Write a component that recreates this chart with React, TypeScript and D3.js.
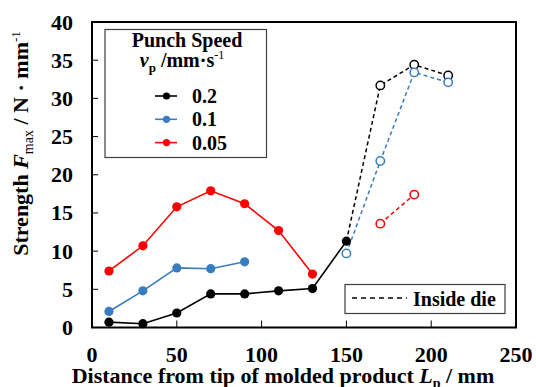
import React, { useRef, useEffect } from "react";
import * as d3 from "d3";

const X_TICKS = [0, 50, 100, 150, 200, 250];
const Y_TICKS = [0, 5, 10, 15, 20, 25, 30, 35, 40];

const SPEEDS = ["0.2", "0.1", "0.05"];
const COLORS: Record<string, string> = { "0.2": "#000000", "0.1": "#3a7cc0", "0.05": "#ff0000" };

// measured outside the die (solid line, filled markers)
const OUT_X: Record<string, number[]> = {
  "0.2": [10, 30, 50, 70, 90, 110, 130, 150],
  "0.1": [10, 30, 50, 70, 90],
  "0.05": [10, 30, 50, 70, 90, 110, 130],
};
const OUT_Y: Record<string, number[]> = {
  "0.2": [0.7, 0.5, 1.9, 4.4, 4.4, 4.8, 5.1, 11.3],
  "0.1": [2.1, 4.8, 7.8, 7.7, 8.6],
  "0.05": [7.4, 10.7, 15.8, 17.9, 16.2, 12.7, 7.0],
};
// inside die (dashed line, open markers)
const DIE_X: Record<string, number[]> = {
  "0.2": [170, 190, 210],
  "0.1": [150, 170, 190, 210],
  "0.05": [170, 190],
};
const DIE_Y: Record<string, number[]> = {
  "0.2": [31.7, 34.4, 33.0],
  "0.1": [9.7, 21.8, 33.4, 32.1],
  "0.05": [13.6, 17.4],
};
// dashed line continues from last outside point
const JOIN: Record<string, boolean> = { "0.2": true, "0.1": false, "0.05": false };

const FONT = "'Liberation Serif', 'Times New Roman', Times, serif";

const App: React.FC = () => {
  const svgRef = useRef<SVGSVGElement | null>(null);

  useEffect(() => {
    if (!svgRef.current) return;
    const svg = d3.select(svgRef.current);
    svg.selectAll("*").remove();

    const L = 92, R = 516, T = 22, B = 327.5;
    const x = d3.scaleLinear().domain([0, 250]).range([L, R]);
    const y = d3.scaleLinear().domain([0, 40]).range([B, T]);

    const root = svg.append("g").style("font-family", FONT).style("font-weight", "bold");

    /* ticks */
    root.append("g")
      .selectAll("line")
      .data(Y_TICKS)
      .join("line")
      .attr("x1", L).attr("x2", L + 6)
      .attr("y1", (d) => y(d)).attr("y2", (d) => y(d))
      .attr("stroke", "#000").attr("stroke-width", 1);
    root.append("g")
      .selectAll("line")
      .data(X_TICKS)
      .join("line")
      .attr("x1", (d) => x(d)).attr("x2", (d) => x(d))
      .attr("y1", B).attr("y2", B - 7)
      .attr("stroke", "#000").attr("stroke-width", 1);

    /* frame */
    root.append("rect")
      .attr("x", L).attr("y", T).attr("width", R - L).attr("height", B - T)
      .attr("fill", "none").attr("stroke", "#000").attr("stroke-width", 2);

    /* tick labels */
    root.append("g")
      .selectAll("text")
      .data(Y_TICKS)
      .join("text")
      .attr("x", 73).attr("y", (d) => y(d) + 7.5)
      .attr("text-anchor", "end").style("font-size", "22px")
      .text((d) => d);
    root.append("g")
      .selectAll("text")
      .data(X_TICKS)
      .join("text")
      .attr("x", (d) => x(d)).attr("y", 362)
      .attr("text-anchor", "middle").style("font-size", "22px")
      .text((d) => d);

    /* axis titles */
    const xt = root.append("text").attr("x", 283).attr("y", 383)
      .attr("text-anchor", "middle").style("font-size", "22px");
    xt.append("tspan").text("Distance from tip of molded product ");
    xt.append("tspan").style("font-style", "italic").text("L");
    xt.append("tspan").style("font-size", "14px").attr("dy", 5).text("p");
    xt.append("tspan").attr("dy", -5).text(" / mm");

    const yt = root.append("text")
      .attr("transform", "translate(28,143.5) rotate(-90)")
      .attr("text-anchor", "middle").style("font-size", "22px");
    yt.append("tspan").text("Strength ");
    yt.append("tspan").style("font-style", "italic").text("F");
    yt.append("tspan").style("font-size", "14px").style("font-weight", "normal").attr("dy", 5).text("max");
    yt.append("tspan").attr("dy", -5).text(" / N · mm");
    yt.append("tspan").style("font-size", "13px").style("font-weight", "normal").attr("dy", -8).text("-1");

    const line = d3.line<[number, number]>().x((d) => x(d[0])).y((d) => y(d[1]));

    /* dashed inside-die lines */
    SPEEDS.forEach((s) => {
      const pts: [number, number][] = DIE_X[s].map((v, i) => [v, DIE_Y[s][i]]);
      if (JOIN[s]) {
        const n = OUT_X[s].length - 1;
        pts.unshift([OUT_X[s][n], OUT_Y[s][n]]);
      }
      root.append("path")
        .attr("d", line(pts))
        .attr("fill", "none").attr("stroke", COLORS[s])
        .attr("stroke-width", 1.5).attr("stroke-dasharray", "4,3");
    });

    /* solid lines + filled markers */
    SPEEDS.forEach((s) => {
      const pts: [number, number][] = OUT_X[s].map((v, i) => [v, OUT_Y[s][i]]);
      root.append("path")
        .attr("d", line(pts))
        .attr("fill", "none").attr("stroke", COLORS[s]).attr("stroke-width", 1.6);
      root.append("g")
        .selectAll("circle")
        .data(pts)
        .join("circle")
        .attr("cx", (d) => x(d[0])).attr("cy", (d) => y(d[1])).attr("r", 4.6)
        .attr("fill", COLORS[s]);
    });

    /* open markers */
    SPEEDS.forEach((s) => {
      const pts: [number, number][] = DIE_X[s].map((v, i) => [v, DIE_Y[s][i]]);
      root.append("g")
        .selectAll("circle")
        .data(pts)
        .join("circle")
        .attr("cx", (d) => x(d[0])).attr("cy", (d) => y(d[1])).attr("r", 4.2)
        .attr("fill", "#fff").attr("stroke", COLORS[s]).attr("stroke-width", 1.5);
    });

    /* speed legend */
    const lg = root.append("g");
    lg.append("rect")
      .attr("x", 105).attr("y", 29.5).attr("width", 161.5).attr("height", 128)
      .attr("fill", "#fff").attr("stroke", "#404040").attr("stroke-width", 1.2);
    lg.append("text").attr("x", 187).attr("y", 47)
      .attr("text-anchor", "middle").style("font-size", "20px").text("Punch Speed");
    const l2 = lg.append("text").attr("x", 182).attr("y", 67)
      .attr("text-anchor", "middle").style("font-size", "20px");
    l2.append("tspan").style("font-style", "italic").text("v");
    l2.append("tspan").style("font-size", "13px").attr("dy", 5).text("p");
    l2.append("tspan").attr("dy", -5).text(" /mm·s");
    l2.append("tspan").style("font-size", "12px").style("font-weight", "normal").attr("dy", -8).text("-1");
    SPEEDS.forEach((s, i) => {
      const cy = 96 + i * 23.3;
      lg.append("line")
        .attr("x1", 155).attr("x2", 177).attr("y1", cy).attr("y2", cy)
        .attr("stroke", COLORS[s]).attr("stroke-width", 1.6);
      lg.append("circle").attr("cx", 166.5).attr("cy", cy).attr("r", 3.6).attr("fill", COLORS[s]);
      lg.append("text").attr("x", 192).attr("y", cy + 7)
        .style("font-size", "20px").text(s);
    });

    /* inside die legend */
    const ld = root.append("g");
    ld.append("rect")
      .attr("x", 345).attr("y", 284.5).attr("width", 160).attr("height", 29)
      .attr("fill", "#fff").attr("stroke", "#404040").attr("stroke-width", 1.2);
    ld.append("line")
      .attr("x1", 352).attr("x2", 407).attr("y1", 298).attr("y2", 298)
      .attr("stroke", "#000").attr("stroke-width", 1.3).attr("stroke-dasharray", "5,4");
    ld.append("text").attr("x", 413).attr("y", 305.5).style("font-size", "20px").text("Inside die");
  }, []);

  return (
    <svg
      ref={svgRef}
      width={536}
      height={387}
      style={{ position: "absolute", left: 0, top: 0, background: "#fff" }}
    />
  );
};

export default App;
